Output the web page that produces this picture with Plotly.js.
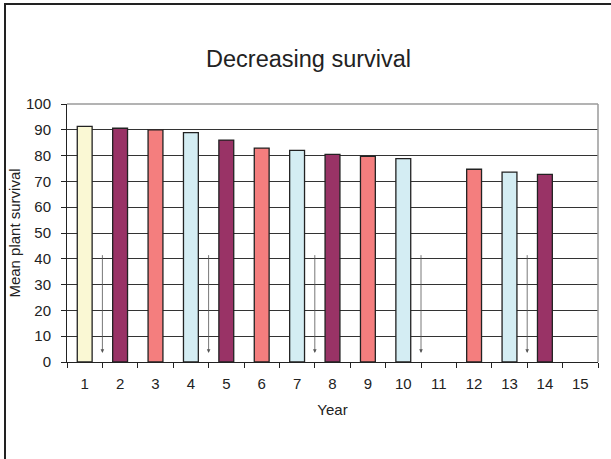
<!DOCTYPE html>
<html>
<head>
<meta charset="utf-8">
<script src="https://cdn.plot.ly/plotly-3.0.1.min.js"></script>
<style>
  html, body { margin: 0; padding: 0; background: #fff; }
  #wrap { position: relative; width: 611px; height: 459px; }
  #chart { position: absolute; left: 0; top: 0; width: 611px; height: 459px; }
  #frame { position: absolute; left: 4px; top: 3px; width: 607px; height: 456px;
           border-top: 2px solid #222; border-left: 2px solid #222; pointer-events: none; }
</style>
</head>
<body>
<div id="wrap">
  <div id="chart"></div>
  <div id="frame"></div>
</div>
<script>
// Data
const years = ["1","2","3","4","5","6","7","8","9","10","11","12","13","14","15"];
const survival = [91.3, 90.6, 90.0, 88.9, 86.0, 82.9, 82.0, 80.5, 79.7, 78.8, null, 74.7, 73.6, 72.7, null];
const barColors = ["#FAF8D4","#993366","#F47E7E","#D4EDF3","#993366","#F47E7E","#D4EDF3","#993366","#F47E7E","#D4EDF3","#FFFFFF","#F47E7E","#D4EDF3","#993366","#FFFFFF"];
// arrows drawn between years (boundary positions, in year units)
const arrowYears = [1.5, 4.5, 7.5, 10.5, 13.5];
const arrowTop = 42;
const arrowBottom = 3.5;
const yTicks = [0,10,20,30,40,50,60,70,80,90,100];

const font = "'Liberation Sans', Arial, sans-serif";

const trace = {
  type: "bar",
  x: years,
  y: survival,
  marker: { color: barColors, line: { color: "#222", width: 1.3 } },
  hoverinfo: "x+y"
};

const annotations = arrowYears.map(yr => ({
  xref: "x", yref: "y", axref: "x", ayref: "y",
  x: yr - 1, y: arrowBottom, ax: yr - 1, ay: arrowTop,
  text: "", showarrow: true,
  arrowhead: 2, arrowsize: 0.9, arrowwidth: 0.8, arrowcolor: "#555"
}));

const layout = {
  width: 611, height: 459,
  margin: { l: 67, r: 13, t: 104, b: 97 },
  paper_bgcolor: "#fff", plot_bgcolor: "#fff",
  showlegend: false,
  bargap: 0.58,
  font: { family: font, color: "#222", size: 15 },
  title: { text: "Decreasing survival", font: { family: font, size: 23.5, color: "#222" },
           x: 0.505, xanchor: "center", y: 0.872, yanchor: "middle", yref: "container" },
  xaxis: {
    type: "category",
    categoryorder: "array", categoryarray: years,
    tickson: "boundaries",
    ticks: "outside", ticklen: 5, tickcolor: "#222", tickwidth: 1,
    ticklabelstandoff: 8,
    showline: true, linecolor: "#222", linewidth: 1,
    showgrid: false, zeroline: false,
    tickfont: { family: font, size: 15, color: "#222" },
    title: { text: "Year", font: { family: font, size: 15, color: "#222" }, standoff: 13 }
  },
  yaxis: {
    range: [0, 100],
    tickvals: yTicks,
    ticks: "outside", ticklen: 5, tickcolor: "#222", tickwidth: 1,
    ticklabelstandoff: 7,
    showline: true, linecolor: "#222", linewidth: 1,
    showgrid: true, gridcolor: "#333", gridwidth: 1,
    zeroline: false,
    tickfont: { family: font, size: 15, color: "#222" },
    title: { text: "Mean plant survival", font: { family: font, size: 15, color: "#222" }, standoff: 1 }
  },
  shapes: [
    { type: "line", xref: "paper", yref: "paper", x0: 0, x1: 1, y0: 1, y1: 1, line: { color: "#9a9a9a", width: 1.5 }, layer: "above" },
    { type: "line", xref: "paper", yref: "paper", x0: 1, x1: 1, y0: 0, y1: 1, line: { color: "#9a9a9a", width: 1.5 }, layer: "above" }
  ],
  annotations: annotations
};

Plotly.newPlot("chart", [trace], layout, { displayModeBar: false, staticPlot: true });
</script>
</body>
</html>
